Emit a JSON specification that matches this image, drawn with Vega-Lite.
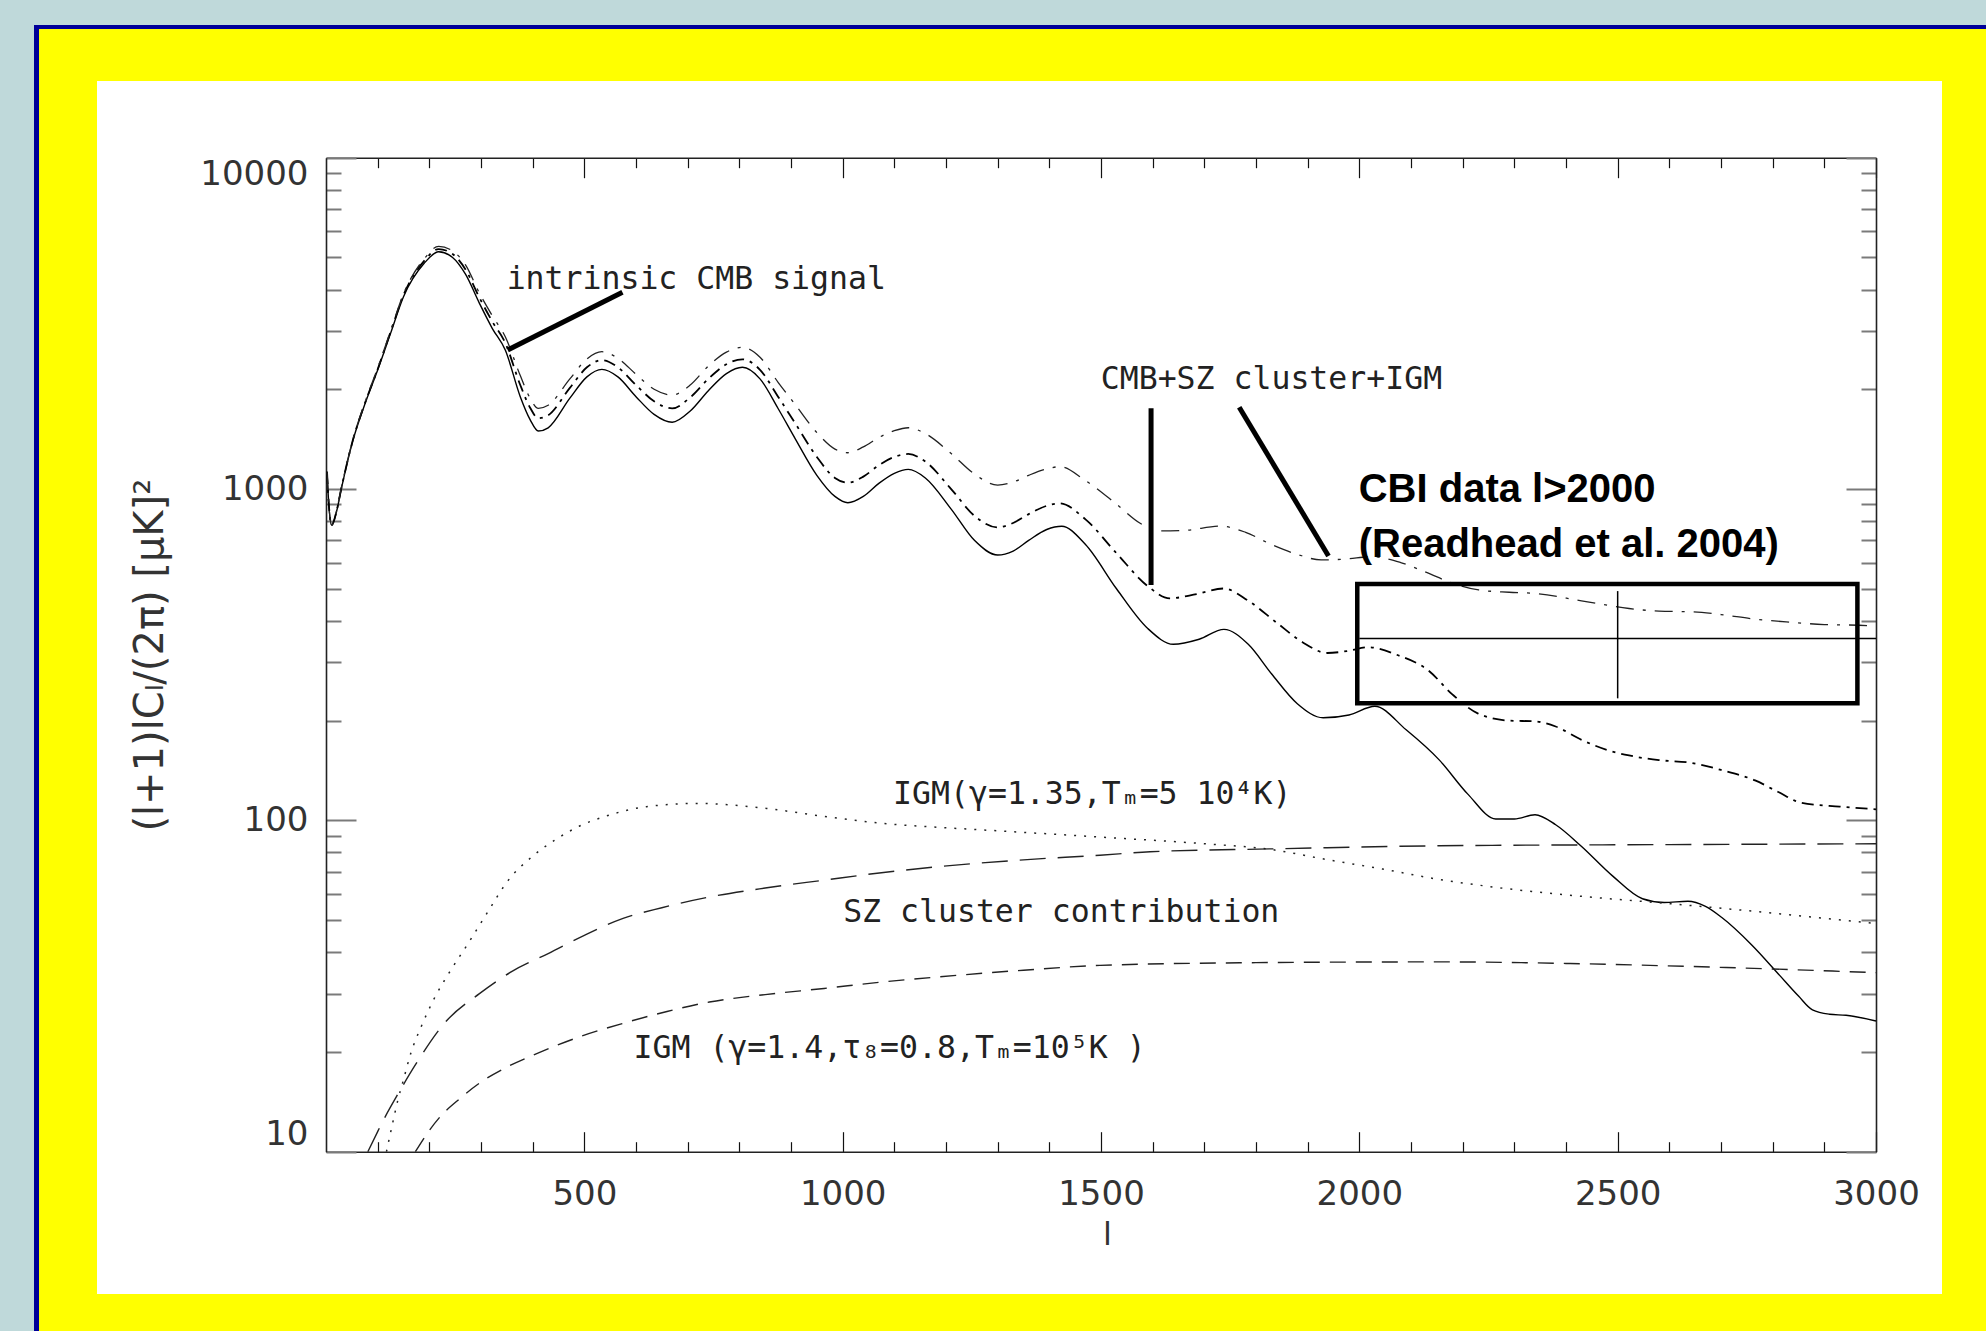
{
  "$schema": "https://vega.github.io/schema/vega-lite/v6.json",
  "background": "#FFFF00",
  "padding": 0,
  "spacing": 0,
  "config": {"view": {"stroke": null}, "concat": {"spacing": 0}},
  "datasets": {
    "curves": [
      {"s":"A","l":2,"v":1127},{"s":"A","l":5,"v":920},{"s":"A","l":11,"v":778},{"s":"A","l":20,"v":850},{"s":"A","l":30,"v":1007},{"s":"A","l":52,"v":1400},{"s":"A","l":75,"v":1800},{"s":"A","l":100,"v":2286},{"s":"A","l":125,"v":2950},{"s":"A","l":150,"v":3805},{"s":"A","l":190,"v":4800},{"s":"A","l":218,"v":5200},{"s":"A","l":245,"v":5000},{"s":"A","l":270,"v":4450},{"s":"A","l":297,"v":3634},{"s":"A","l":322,"v":3050},{"s":"A","l":347,"v":2627},{"s":"A","l":376,"v":1900},{"s":"A","l":395,"v":1620},{"s":"A","l":411,"v":1496},{"s":"A","l":430,"v":1530},{"s":"A","l":472,"v":1880},{"s":"A","l":505,"v":2180},{"s":"A","l":534,"v":2297},{"s":"A","l":565,"v":2180},{"s":"A","l":600,"v":1900},{"s":"A","l":635,"v":1680},{"s":"A","l":670,"v":1590},{"s":"A","l":705,"v":1720},{"s":"A","l":740,"v":1980},{"s":"A","l":775,"v":2230},{"s":"A","l":806,"v":2330},{"s":"A","l":840,"v":2150},{"s":"A","l":875,"v":1750},{"s":"A","l":908,"v":1420},{"s":"A","l":950,"v":1100},{"s":"A","l":985,"v":950},{"s":"A","l":1010,"v":909},{"s":"A","l":1040,"v":950},{"s":"A","l":1070,"v":1040},{"s":"A","l":1100,"v":1115},{"s":"A","l":1127,"v":1146},{"s":"A","l":1160,"v":1080},{"s":"A","l":1210,"v":870},{"s":"A","l":1255,"v":700},{"s":"A","l":1300,"v":632},{"s":"A","l":1330,"v":650},{"s":"A","l":1360,"v":700},{"s":"A","l":1395,"v":755},{"s":"A","l":1424,"v":772},{"s":"A","l":1470,"v":680},{"s":"A","l":1530,"v":500},{"s":"A","l":1590,"v":380},{"s":"A","l":1640,"v":340},{"s":"A","l":1690,"v":352},{"s":"A","l":1738,"v":377},{"s":"A","l":1785,"v":340},{"s":"A","l":1830,"v":277},{"s":"A","l":1880,"v":225},{"s":"A","l":1930,"v":204},{"s":"A","l":1980,"v":208},{"s":"A","l":2030,"v":221},{"s":"A","l":2090,"v":188},{"s":"A","l":2155,"v":152},{"s":"A","l":2210,"v":120},{"s":"A","l":2264,"v":101},{"s":"A","l":2300,"v":101},{"s":"A","l":2340,"v":104},{"s":"A","l":2380,"v":97},{"s":"A","l":2428,"v":84},{"s":"A","l":2490,"v":68},{"s":"A","l":2548,"v":58},{"s":"A","l":2590,"v":56.5},{"s":"A","l":2636,"v":57},{"s":"A","l":2670,"v":55},{"s":"A","l":2701,"v":51},{"s":"A","l":2760,"v":42},{"s":"A","l":2811,"v":34.4},{"s":"A","l":2850,"v":29.5},{"s":"A","l":2877,"v":26.8},{"s":"A","l":2910,"v":26},{"s":"A","l":2942,"v":25.8},{"s":"A","l":3000,"v":24.8},
      {"s":"B","l":2,"v":1127},{"s":"B","l":5,"v":920},{"s":"B","l":11,"v":778},{"s":"B","l":20,"v":852},{"s":"B","l":30,"v":1010},{"s":"B","l":52,"v":1405},{"s":"B","l":75,"v":1810},{"s":"B","l":100,"v":2300},{"s":"B","l":125,"v":2980},{"s":"B","l":150,"v":3850},{"s":"B","l":190,"v":4880},{"s":"B","l":218,"v":5300},{"s":"B","l":245,"v":5120},{"s":"B","l":270,"v":4600},{"s":"B","l":297,"v":3780},{"s":"B","l":322,"v":3200},{"s":"B","l":347,"v":2760},{"s":"B","l":376,"v":2060},{"s":"B","l":395,"v":1760},{"s":"B","l":411,"v":1635},{"s":"B","l":430,"v":1670},{"s":"B","l":472,"v":2020},{"s":"B","l":505,"v":2330},{"s":"B","l":534,"v":2449},{"s":"B","l":565,"v":2330},{"s":"B","l":600,"v":2060},{"s":"B","l":635,"v":1840},{"s":"B","l":670,"v":1752},{"s":"B","l":705,"v":1890},{"s":"B","l":740,"v":2150},{"s":"B","l":775,"v":2380},{"s":"B","l":806,"v":2463},{"s":"B","l":840,"v":2290},{"s":"B","l":875,"v":1900},{"s":"B","l":908,"v":1580},{"s":"B","l":950,"v":1250},{"s":"B","l":985,"v":1080},{"s":"B","l":1010,"v":1045},{"s":"B","l":1040,"v":1090},{"s":"B","l":1070,"v":1180},{"s":"B","l":1100,"v":1250},{"s":"B","l":1127,"v":1276},{"s":"B","l":1160,"v":1210},{"s":"B","l":1210,"v":1000},{"s":"B","l":1255,"v":830},{"s":"B","l":1300,"v":766},{"s":"B","l":1330,"v":790},{"s":"B","l":1360,"v":840},{"s":"B","l":1395,"v":890},{"s":"B","l":1420,"v":905},{"s":"B","l":1470,"v":810},{"s":"B","l":1530,"v":640},{"s":"B","l":1590,"v":510},{"s":"B","l":1633,"v":468},{"s":"B","l":1685,"v":482},{"s":"B","l":1737,"v":501},{"s":"B","l":1785,"v":460},{"s":"B","l":1840,"v":395},{"s":"B","l":1890,"v":345},{"s":"B","l":1938,"v":320},{"s":"B","l":1980,"v":325},{"s":"B","l":2017,"v":333},{"s":"B","l":2075,"v":315},{"s":"B","l":2133,"v":284},{"s":"B","l":2180,"v":240},{"s":"B","l":2230,"v":210},{"s":"B","l":2290,"v":200},{"s":"B","l":2340,"v":199},{"s":"B","l":2380,"v":192},{"s":"B","l":2430,"v":175},{"s":"B","l":2480,"v":163},{"s":"B","l":2522,"v":157},{"s":"B","l":2580,"v":152},{"s":"B","l":2644,"v":149},{"s":"B","l":2700,"v":142},{"s":"B","l":2766,"v":132},{"s":"B","l":2810,"v":122},{"s":"B","l":2855,"v":113},{"s":"B","l":2930,"v":110},{"s":"B","l":3000,"v":108},
      {"s":"C","l":2,"v":1127},{"s":"C","l":5,"v":920},{"s":"C","l":11,"v":778},{"s":"C","l":20,"v":855},{"s":"C","l":30,"v":1015},{"s":"C","l":52,"v":1410},{"s":"C","l":75,"v":1820},{"s":"C","l":100,"v":2320},{"s":"C","l":125,"v":3000},{"s":"C","l":150,"v":3880},{"s":"C","l":190,"v":4950},{"s":"C","l":218,"v":5400},{"s":"C","l":245,"v":5230},{"s":"C","l":270,"v":4750},{"s":"C","l":297,"v":3900},{"s":"C","l":322,"v":3330},{"s":"C","l":347,"v":2880},{"s":"C","l":376,"v":2200},{"s":"C","l":395,"v":1880},{"s":"C","l":411,"v":1752},{"s":"C","l":430,"v":1790},{"s":"C","l":472,"v":2150},{"s":"C","l":505,"v":2470},{"s":"C","l":534,"v":2597},{"s":"C","l":565,"v":2480},{"s":"C","l":600,"v":2220},{"s":"C","l":635,"v":2000},{"s":"C","l":670,"v":1922},{"s":"C","l":705,"v":2060},{"s":"C","l":740,"v":2350},{"s":"C","l":775,"v":2590},{"s":"C","l":806,"v":2677},{"s":"C","l":840,"v":2500},{"s":"C","l":875,"v":2100},{"s":"C","l":908,"v":1800},{"s":"C","l":950,"v":1480},{"s":"C","l":985,"v":1320},{"s":"C","l":1010,"v":1287},{"s":"C","l":1040,"v":1340},{"s":"C","l":1070,"v":1430},{"s":"C","l":1100,"v":1500},{"s":"C","l":1127,"v":1531},{"s":"C","l":1160,"v":1470},{"s":"C","l":1210,"v":1280},{"s":"C","l":1255,"v":1110},{"s":"C","l":1300,"v":1028},{"s":"C","l":1330,"v":1050},{"s":"C","l":1360,"v":1100},{"s":"C","l":1395,"v":1150},{"s":"C","l":1420,"v":1168},{"s":"C","l":1470,"v":1060},{"s":"C","l":1530,"v":900},{"s":"C","l":1575,"v":790},{"s":"C","l":1610,"v":748},{"s":"C","l":1660,"v":750},{"s":"C","l":1731,"v":773},{"s":"C","l":1780,"v":740},{"s":"C","l":1830,"v":680},{"s":"C","l":1880,"v":635},{"s":"C","l":1926,"v":611},{"s":"C","l":1975,"v":615},{"s":"C","l":2023,"v":625},{"s":"C","l":2080,"v":600},{"s":"C","l":2130,"v":560},{"s":"C","l":2180,"v":520},{"s":"C","l":2231,"v":496},{"s":"C","l":2290,"v":488},{"s":"C","l":2340,"v":484},{"s":"C","l":2430,"v":460},{"s":"C","l":2522,"v":436},{"s":"C","l":2580,"v":428},{"s":"C","l":2644,"v":426},{"s":"C","l":2700,"v":418},{"s":"C","l":2760,"v":406},{"s":"C","l":2826,"v":397},{"s":"C","l":2900,"v":390},{"s":"C","l":2967,"v":388},{"s":"C","l":3000,"v":386},
      {"s":"D","l":117,"v":10},{"s":"D","l":128,"v":12},{"s":"D","l":139,"v":14.3},{"s":"D","l":150,"v":16.5},{"s":"D","l":164,"v":19.8},{"s":"D","l":185,"v":24},{"s":"D","l":208,"v":28.7},{"s":"D","l":240,"v":35},{"s":"D","l":275,"v":42.5},{"s":"D","l":310,"v":52},{"s":"D","l":353,"v":66},{"s":"D","l":400,"v":78},{"s":"D","l":442,"v":87},{"s":"D","l":490,"v":96},{"s":"D","l":542,"v":103},{"s":"D","l":620,"v":110},{"s":"D","l":720,"v":112.5},{"s":"D","l":853,"v":108.6},{"s":"D","l":960,"v":103},{"s":"D","l":1075,"v":98},{"s":"D","l":1200,"v":95},{"s":"D","l":1300,"v":93},{"s":"D","l":1500,"v":89},{"s":"D","l":1700,"v":85},{"s":"D","l":1826,"v":81.8},{"s":"D","l":1940,"v":76},{"s":"D","l":2045,"v":71.3},{"s":"D","l":2150,"v":66.5},{"s":"D","l":2264,"v":62.8},{"s":"D","l":2430,"v":59},{"s":"D","l":2592,"v":56.2},{"s":"D","l":2800,"v":52.5},{"s":"D","l":3000,"v":48.8},
      {"s":"E","l":81,"v":10},{"s":"E","l":100,"v":11.5},{"s":"E","l":114,"v":12.7},{"s":"E","l":140,"v":15},{"s":"E","l":175,"v":18.5},{"s":"E","l":230,"v":24.5},{"s":"E","l":297,"v":30},{"s":"E","l":360,"v":35},{"s":"E","l":431,"v":39.7},{"s":"E","l":500,"v":45},{"s":"E","l":575,"v":50.6},{"s":"E","l":650,"v":54.5},{"s":"E","l":742,"v":58.7},{"s":"E","l":850,"v":62.5},{"s":"E","l":964,"v":66},{"s":"E","l":1075,"v":69.5},{"s":"E","l":1186,"v":72.5},{"s":"E","l":1350,"v":76},{"s":"E","l":1498,"v":78.5},{"s":"E","l":1595,"v":80.4},{"s":"E","l":1826,"v":82},{"s":"E","l":2155,"v":83.8},{"s":"E","l":2600,"v":84.5},{"s":"E","l":3000,"v":85},
      {"s":"F","l":173,"v":10},{"s":"F","l":195,"v":11.3},{"s":"F","l":220,"v":12.7},{"s":"F","l":260,"v":14.5},{"s":"F","l":297,"v":16.1},{"s":"F","l":350,"v":18},{"s":"F","l":409,"v":19.8},{"s":"F","l":490,"v":22.2},{"s":"F","l":575,"v":24.4},{"s":"F","l":660,"v":26.5},{"s":"F","l":742,"v":28.3},{"s":"F","l":850,"v":29.8},{"s":"F","l":964,"v":31.1},{"s":"F","l":1075,"v":32.5},{"s":"F","l":1186,"v":33.7},{"s":"F","l":1350,"v":35.3},{"s":"F","l":1498,"v":36.5},{"s":"F","l":1800,"v":37.2},{"s":"F","l":2155,"v":37.4},{"s":"F","l":2400,"v":37},{"s":"F","l":2592,"v":36.4},{"s":"F","l":2800,"v":35.6},{"s":"F","l":3000,"v":34.7}
    ],
    "pointers": [
      {"l1":351.7,"v1":2628,"l2":573.8,"v2":3924},
      {"l1":1596.9,"v1":1752,"l2":1596.9,"v2":513},
      {"l1":1767.5,"v1":1765,"l2":1940.3,"v2":628}
    ],
    "cbiBar": [
      {"l1":2000,"v1":354.2,"l2":3000,"v2":354.2},
      {"l1":2500,"v1":233.5,"l2":2500,"v2":492}
    ],
    "cbiBox": [{"l1":1996,"l2":2964,"v1":225.5,"v2":516.7}],
    "notes": [
      {"l":349.6,"v":4007,"text":"intrinsic CMB signal"},
      {"l":1499.5,"v":2000,"text":"CMB+SZ cluster+IGM"},
      {"l":1097.6,"v":112,"text":"IGM(γ=1.35,Tₘ=5 10⁴K)"},
      {"l":1000.9,"v":49.4,"text":"SZ cluster contribution"},
      {"l":595.3,"v":19.2,"text":"IGM (γ=1.4,τ₈=0.8,Tₘ=10⁵K )"}
    ],
    "cbiText": [
      {"l":1998.8,"v":915.6,"text":"CBI data l>2000"},
      {"l":1998.8,"v":624.7,"text":"(Readhead et al. 2004)"}
    ]
  },
  "vconcat": [
    {"data": {"values": []}, "mark": "point", "width": 1986, "height": 25, "view": {"fill": "#BFD9DA", "stroke": null}},
    {"hconcat": [
      {"data": {"values": []}, "mark": "point", "width": 34, "height": 4, "view": {"fill": "#BFD9DA", "stroke": null}},
      {"data": {"values": []}, "mark": "point", "width": 1952, "height": 4, "view": {"fill": "#000099", "stroke": null}}
    ], "spacing": 0},
    {"hconcat": [
      {"data": {"values": []}, "mark": "point", "width": 34, "height": 1302, "view": {"fill": "#BFD9DA", "stroke": null}},
      {"data": {"values": []}, "mark": "point", "width": 5, "height": 1302, "view": {"fill": "#000099", "stroke": null}},
      {"hconcat": [
        {"data": {"values": []}, "mark": "point", "width": 1, "height": 1, "view": {"fill": "#FFFF00", "stroke": null}},
        {"vconcat": [
          {"data": {"values": []}, "mark": "point", "width": 1, "height": 1, "view": {"fill": "#FFFF00", "stroke": null}},
          {
            "width": 1845,
            "height": 1213,
            "view": {"fill": "#FFFFFF", "stroke": null},
            "resolve": {"axis": {"x": "independent", "y": "independent"}},
            "layer": [
              {
                "data": {"name": "curves"},
                "transform": [{"filter": "datum.s == 'A'"}],
                "mark": {"type": "line", "interpolate": "monotone", "stroke": "#000000", "strokeWidth": 1.4},
                "encoding": {
                  "x": {"field": "l", "type": "quantitative",
                    "scale": {"domain": [0, 3000], "range": [229, 1779], "nice": false, "zero": false},
                    "axis": {"orient": "bottom", "offset": -142.3, "grid": false,
                      "values": [100,200,300,400,500,600,700,800,900,1000,1100,1200,1300,1400,1500,1600,1700,1800,1900,2000,2100,2200,2300,2400,2500,2600,2700,2800,2900,3000],
                      "labelExpr": "datum.value % 500 == 0 ? datum.value + '' : ''",
                      "tickSize": {"condition": {"test": "datum.value % 500 == 0", "value": -20}, "value": -10},
                      "tickColor": "#111111", "tickWidth": 1.2,
                      "domainColor": "#222222", "domainWidth": 1.6,
                      "labelPadding": 46, "labelFont": "DejaVu Sans", "labelFontSize": 34, "labelColor": "#333333",
                      "labelFlush": false, "labelOverlap": false, "labelBound": false,
                      "title": "l", "titleFont": "DejaVu Sans", "titleFontSize": 32, "titleFontWeight": "normal", "titleColor": "#333333",
                      "titleX": 1010, "titleY": 93, "titleBaseline": "alphabetic", "titleAlign": "center"}},
                  "y": {"field": "v", "type": "quantitative",
                    "scale": {"type": "log", "domain": [10, 10000], "range": [1070.7, 76.7], "nice": false, "zero": false},
                    "axis": {"orient": "left", "offset": -229, "grid": false,
                      "values": [10,20,30,40,50,60,70,80,90,100,200,300,400,500,600,700,800,900,1000,2000,3000,4000,5000,6000,7000,8000,9000,10000],
                      "labelExpr": "(datum.value == 10 || datum.value == 100 || datum.value == 1000 || datum.value == 10000) ? datum.value + '' : ''",
                      "tickSize": {"condition": {"test": "datum.value == 10 || datum.value == 100 || datum.value == 1000 || datum.value == 10000", "value": -30}, "value": -15},
                      "tickColor": "#7a7a7a", "tickWidth": 2,
                      "domainColor": "#222222", "domainWidth": 1.6,
                      "labelPadding": 48, "labelFont": "DejaVu Sans", "labelFontSize": 34, "labelColor": "#333333",
                      "labelFlush": true, "labelOverlap": false, "labelBound": false,
                      "title": "(l+1)lCₗ/(2π) [μK]²", "titleFont": "DejaVu Sans", "titleFontSize": 40, "titleFontWeight": "normal", "titleColor": "#333333",
                      "titleX": -176, "titleAngle": 270, "titleBaseline": "middle", "titleAlign": "center"}}
                }
              },
              {
                "data": {"name": "curves"},
                "transform": [{"filter": "datum.s == 'B'"}],
                "mark": {"type": "line", "interpolate": "monotone", "stroke": "#000000", "strokeWidth": 1.8, "strokeDash": [12, 6, 3, 6]},
                "encoding": {
                  "x": {"field": "l", "type": "quantitative",
                    "scale": {"domain": [0, 3000], "range": [229, 1779], "nice": false, "zero": false},
                    "axis": {"orient": "top", "offset": -76.7, "grid": false, "labels": false, "title": null,
                      "values": [100,200,300,400,500,600,700,800,900,1000,1100,1200,1300,1400,1500,1600,1700,1800,1900,2000,2100,2200,2300,2400,2500,2600,2700,2800,2900,3000],
                      "tickSize": {"condition": {"test": "datum.value % 500 == 0", "value": -20}, "value": -10},
                      "tickColor": "#111111", "tickWidth": 1.2,
                      "domainColor": "#222222", "domainWidth": 1.6}},
                  "y": {"field": "v", "type": "quantitative",
                    "scale": {"type": "log", "domain": [10, 10000], "range": [1070.7, 76.7], "nice": false, "zero": false},
                    "axis": {"orient": "right", "offset": -66, "grid": false, "labels": false, "title": null,
                      "values": [10,20,30,40,50,60,70,80,90,100,200,300,400,500,600,700,800,900,1000,2000,3000,4000,5000,6000,7000,8000,9000,10000],
                      "tickSize": {"condition": {"test": "datum.value == 10 || datum.value == 100 || datum.value == 1000 || datum.value == 10000", "value": -30}, "value": -15},
                      "tickColor": "#7a7a7a", "tickWidth": 2,
                      "domainColor": "#222222", "domainWidth": 1.6}}
                }
              },
              {
                "data": {"name": "curves"},
                "transform": [{"filter": "datum.s == 'C'"}],
                "mark": {"type": "line", "interpolate": "monotone", "stroke": "#222222", "strokeWidth": 1.3, "strokeDash": [18, 9, 3, 9]},
                "encoding": {
                  "x": {"field": "l", "type": "quantitative", "scale": {"domain": [0, 3000], "range": [229, 1779], "nice": false, "zero": false}, "axis": null},
                  "y": {"field": "v", "type": "quantitative", "scale": {"type": "log", "domain": [10, 10000], "range": [1070.7, 76.7], "nice": false, "zero": false}, "axis": null}
                }
              },
              {
                "data": {"name": "curves"},
                "transform": [{"filter": "datum.s == 'D'"}],
                "mark": {"type": "line", "interpolate": "monotone", "stroke": "#222222", "strokeWidth": 1.5, "strokeDash": [2, 8]},
                "encoding": {
                  "x": {"field": "l", "type": "quantitative", "scale": {"domain": [0, 3000], "range": [229, 1779], "nice": false, "zero": false}, "axis": null},
                  "y": {"field": "v", "type": "quantitative", "scale": {"type": "log", "domain": [10, 10000], "range": [1070.7, 76.7], "nice": false, "zero": false}, "axis": null}
                }
              },
              {
                "data": {"name": "curves"},
                "transform": [{"filter": "datum.s == 'E'"}],
                "mark": {"type": "line", "interpolate": "monotone", "stroke": "#222222", "strokeWidth": 1.4, "strokeDash": [26, 12]},
                "encoding": {
                  "x": {"field": "l", "type": "quantitative", "scale": {"domain": [0, 3000], "range": [229, 1779], "nice": false, "zero": false}, "axis": null},
                  "y": {"field": "v", "type": "quantitative", "scale": {"type": "log", "domain": [10, 10000], "range": [1070.7, 76.7], "nice": false, "zero": false}, "axis": null}
                }
              },
              {
                "data": {"name": "curves"},
                "transform": [{"filter": "datum.s == 'F'"}],
                "mark": {"type": "line", "interpolate": "monotone", "stroke": "#222222", "strokeWidth": 1.4, "strokeDash": [16, 10]},
                "encoding": {
                  "x": {"field": "l", "type": "quantitative", "scale": {"domain": [0, 3000], "range": [229, 1779], "nice": false, "zero": false}, "axis": null},
                  "y": {"field": "v", "type": "quantitative", "scale": {"type": "log", "domain": [10, 10000], "range": [1070.7, 76.7], "nice": false, "zero": false}, "axis": null}
                }
              },
              {
                "data": {"name": "pointers"},
                "mark": {"type": "rule", "stroke": "#000000", "strokeWidth": 5, "strokeCap": "butt"},
                "encoding": {
                  "x": {"field": "l1", "type": "quantitative", "scale": {"domain": [0, 3000], "range": [229, 1779], "nice": false, "zero": false}, "axis": null},
                  "x2": {"field": "l2"},
                  "y": {"field": "v1", "type": "quantitative", "scale": {"type": "log", "domain": [10, 10000], "range": [1070.7, 76.7], "nice": false, "zero": false}, "axis": null},
                  "y2": {"field": "v2"}
                }
              },
              {
                "data": {"name": "cbiBar"},
                "mark": {"type": "rule", "stroke": "#000000", "strokeWidth": 1.5},
                "encoding": {
                  "x": {"field": "l1", "type": "quantitative", "scale": {"domain": [0, 3000], "range": [229, 1779], "nice": false, "zero": false}, "axis": null},
                  "x2": {"field": "l2"},
                  "y": {"field": "v1", "type": "quantitative", "scale": {"type": "log", "domain": [10, 10000], "range": [1070.7, 76.7], "nice": false, "zero": false}, "axis": null},
                  "y2": {"field": "v2"}
                }
              },
              {
                "data": {"name": "cbiBox"},
                "mark": {"type": "rect", "filled": false, "stroke": "#000000", "strokeWidth": 4.5},
                "encoding": {
                  "x": {"field": "l1", "type": "quantitative", "scale": {"domain": [0, 3000], "range": [229, 1779], "nice": false, "zero": false}, "axis": null},
                  "x2": {"field": "l2"},
                  "y": {"field": "v1", "type": "quantitative", "scale": {"type": "log", "domain": [10, 10000], "range": [1070.7, 76.7], "nice": false, "zero": false}, "axis": null},
                  "y2": {"field": "v2"}
                }
              },
              {
                "data": {"name": "notes"},
                "mark": {"type": "text", "align": "left", "baseline": "alphabetic", "font": "DejaVu Sans Mono", "fontSize": 31.5, "fill": "#222222"},
                "encoding": {
                  "x": {"field": "l", "type": "quantitative", "scale": {"domain": [0, 3000], "range": [229, 1779], "nice": false, "zero": false}, "axis": null},
                  "y": {"field": "v", "type": "quantitative", "scale": {"type": "log", "domain": [10, 10000], "range": [1070.7, 76.7], "nice": false, "zero": false}, "axis": null},
                  "text": {"field": "text"}
                }
              },
              {
                "data": {"name": "cbiText"},
                "mark": {"type": "text", "align": "left", "baseline": "alphabetic", "font": "Liberation Sans", "fontWeight": "bold", "fontSize": 40, "fill": "#000000"},
                "encoding": {
                  "x": {"field": "l", "type": "quantitative", "scale": {"domain": [0, 3000], "range": [229, 1779], "nice": false, "zero": false}, "axis": null},
                  "y": {"field": "v", "type": "quantitative", "scale": {"type": "log", "domain": [10, 10000], "range": [1070.7, 76.7], "nice": false, "zero": false}, "axis": null},
                  "text": {"field": "text"}
                }
              }
            ]
          }
        ], "spacing": 51}
      ], "spacing": 57}
    ], "spacing": 0}
  ]
}
